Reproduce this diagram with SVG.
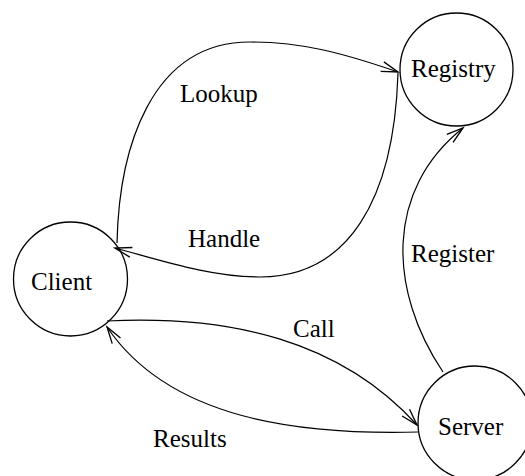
<svg xmlns="http://www.w3.org/2000/svg" width="525" height="476" viewBox="0 0 525 476">
<style>
.node circle{fill:#fff;stroke:#000;stroke-width:1.3}
text{font-family:"Liberation Serif","Times New Roman",serif;font-size:25px;fill:#000}
.edges path{fill:none;stroke:#000;stroke-width:1.2}
</style>
<defs>
<marker id="arr" markerUnits="userSpaceOnUse" markerWidth="20" markerHeight="20" viewBox="-16 -8 18 16" refX="0" refY="0" orient="auto">
<path d="M-15,-4.5 L0,0 L-15,4.5" fill="none" stroke="#000" stroke-width="1.2"/>
</marker>
</defs>
<rect width="525" height="476" fill="#fff"/>
<g id="registry" class="node"><circle cx="456.5" cy="69.5" r="56.5"/><text x="411" y="77">Registry</text></g>
<g id="client" class="node"><circle cx="70.5" cy="279" r="57"/><text x="31" y="290">Client</text></g>
<g id="server" class="node"><circle cx="475" cy="423" r="57"/><text x="438" y="435">Server</text></g>
<g class="edges">
<path d="M117,243 C119,150 150,42 250,42 C300,42 340,52 398,72" marker-end="url(#arr)"/>
<path d="M398,73 C394,200 348,277 260,277 C210,277 160,260 115,248" marker-end="url(#arr)"/>
<path d="M443,372 C388,290 385,190 463,128" marker-end="url(#arr)"/>
<path d="M107,321 C230,315 340,340 417,425" marker-end="url(#arr)"/>
<path d="M418,432 C300,435 170,420 107,327" marker-end="url(#arr)"/>
</g>
<g id="labels">
<text x="180" y="102">Lookup</text>
<text x="188" y="247">Handle</text>
<text x="411" y="262">Register</text>
<text x="293" y="337">Call</text>
<text x="153" y="447">Results</text>
</g>
</svg>
